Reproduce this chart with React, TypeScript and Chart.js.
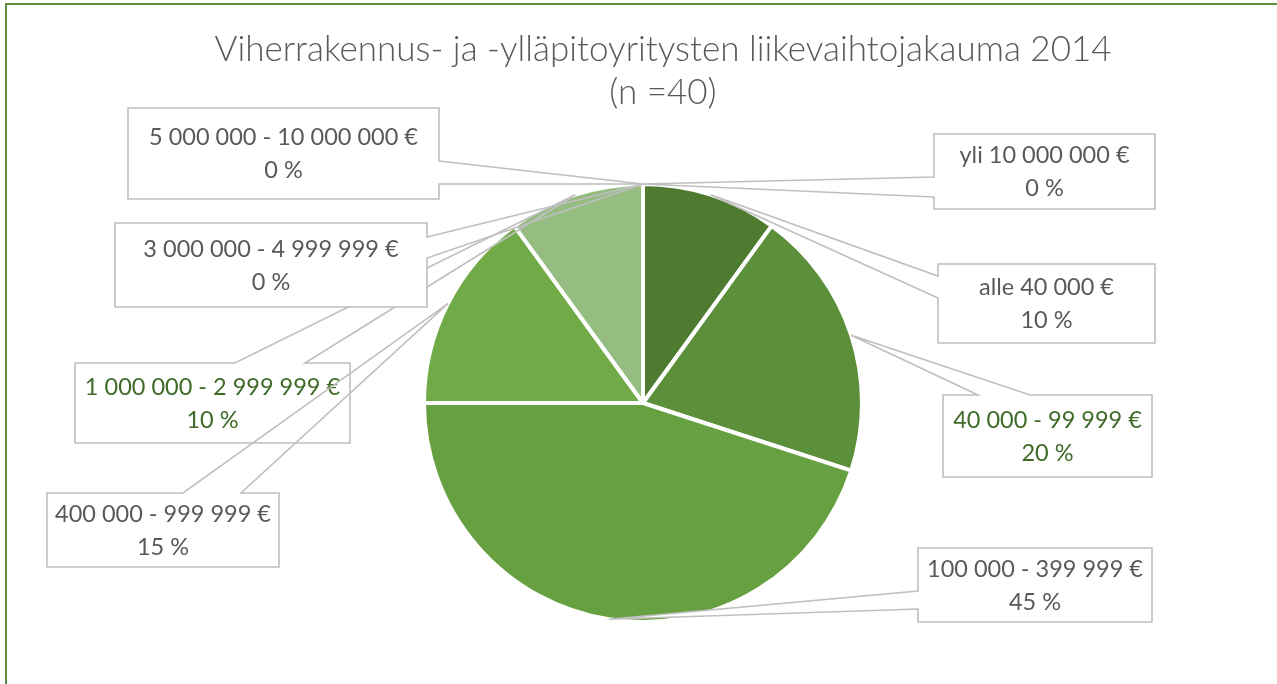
import { useEffect, useRef } from "react";
import { Chart, registerables } from "chart.js";

Chart.register(...registerables);

// ---------- data ----------
const titleLines = [
  "Viherrakennus- ja -ylläpitoyritysten liikevaihtojakauma 2014",
  "(n =40)",
];
const categories = [
  "alle 40 000 €",
  "40 000 - 99 999 €",
  "100 000 - 399 999 €",
  "400 000 - 999 999 €",
  "1 000 000 - 2 999 999 €",
  "3 000 000 - 4 999 999 €",
  "5 000 000 - 10 000 000 €",
  "yli 10 000 000 €",
];
const shares = [10, 20, 45, 15, 10, 0, 0, 0];

// ---------- styles / layout ----------
const sliceColors = [
  "#4e7b30",
  "#5b8f3a",
  "#67a040",
  "#70ab47",
  "#95bd82",
  "#b5d3a5",
  "#c9dfbd",
  "#dbe9d2",
];
const GRAY = "#595959";
const GREEN = "#3f6a28";
const labelColors = [GRAY, GREEN, GRAY, GRAY, GREEN, GRAY, GRAY, GRAY];

type Callout = {
  box: [number, number, number, number];
  side: "left" | "right" | "top";
  base: [number, number];
  fillWedge: boolean;
};
// one callout box per category (same order as categories)
const callouts: Callout[] = [
  { box: [938, 264, 217, 79], side: "left", base: [276, 298], fillWedge: false },
  { box: [943, 395, 209, 82], side: "top", base: [978, 1030], fillWedge: false },
  { box: [918, 548, 234, 74], side: "left", base: [591, 609], fillWedge: true },
  { box: [47, 493, 232, 74], side: "top", base: [183, 241], fillWedge: false },
  { box: [75, 363, 275, 80], side: "top", base: [235, 305], fillWedge: false },
  { box: [115, 223, 312, 84], side: "right", base: [237, 258], fillWedge: false },
  { box: [128, 108, 311, 91], side: "right", base: [161, 184], fillWedge: false },
  { box: [934, 134, 221, 75], side: "left", base: [177, 197], fillWedge: false },
];
const drawOrder = [0, 1, 2, 4, 5, 6, 7, 3];

const decorPlugin = {
  id: "decor",
  beforeDraw(chart: any) {
    const ctx = chart.ctx as CanvasRenderingContext2D;
    ctx.save();
    ctx.fillStyle = "#ffffff";
    ctx.fillRect(0, 0, chart.width, chart.height);
    // chart frame (top + left visible)
    ctx.strokeStyle = "#5e8e3e";
    ctx.lineWidth = 2;
    ctx.beginPath();
    ctx.moveTo(6, chart.height);
    ctx.lineTo(6, 4);
    ctx.lineTo(chart.width, 4);
    ctx.stroke();
    // title
    ctx.fillStyle = GRAY;
    ctx.font = "300 35px Lato";
    ctx.textAlign = "center";
    ctx.textBaseline = "middle";
    ctx.fillText(titleLines[0], 663, 50);
    ctx.fillText(titleLines[1], 663, 93);
    ctx.restore();
  },
  afterDatasetsDraw(chart: any) {
    const ctx = chart.ctx as CanvasRenderingContext2D;
    const meta = chart.getDatasetMeta(0);
    ctx.save();
    drawOrder.forEach((i) => {
      const arc = meta.data[i];
      if (!arc) return;
      const p = arc.getProps(["x", "y", "startAngle", "endAngle", "outerRadius"], true);
      const mid = (p.startAngle + p.endAngle) / 2;
      const tx = p.x + Math.cos(mid) * p.outerRadius;
      const ty = p.y + Math.sin(mid) * p.outerRadius;
      const c = callouts[i];
      const [x, y, w, h] = c.box;
      const [a, b] = c.base;

      ctx.beginPath();
      ctx.moveTo(x, y);
      if (c.side === "top") {
        ctx.lineTo(a, y);
        ctx.lineTo(tx, ty);
        ctx.lineTo(b, y);
      }
      ctx.lineTo(x + w, y);
      if (c.side === "right") {
        ctx.lineTo(x + w, a);
        ctx.lineTo(tx, ty);
        ctx.lineTo(x + w, b);
      }
      ctx.lineTo(x + w, y + h);
      ctx.lineTo(x, y + h);
      if (c.side === "left") {
        ctx.lineTo(x, b);
        ctx.lineTo(tx, ty);
        ctx.lineTo(x, a);
      }
      ctx.closePath();
      ctx.fillStyle = "#ffffff";
      if (c.fillWedge) {
        ctx.fill();
      } else {
        ctx.fillRect(x, y, w, h);
      }
      ctx.strokeStyle = "#bfbfbf";
      ctx.lineWidth = 1.6;
      ctx.lineJoin = "miter";
      ctx.stroke();

      ctx.fillStyle = labelColors[i];
      ctx.font = "23.5px Lato";
      ctx.textAlign = "center";
      ctx.textBaseline = "middle";
      const cx = x + w / 2;
      const cy = y + h / 2;
      ctx.fillText(categories[i], cx, cy - 16);
      ctx.fillText(`${shares[i]} %`, cx, cy + 17);
    });
    ctx.restore();
  },
};

export default function App() {
  const ref = useRef<HTMLCanvasElement | null>(null);

  useEffect(() => {
    if (!ref.current) return;
    const chart = new Chart(ref.current, {
      type: "pie",
      data: {
        labels: categories,
        datasets: [
          {
            data: shares,
            backgroundColor: sliceColors,
            borderColor: "#ffffff",
            borderWidth: 4,
          },
        ],
      },
      options: {
        responsive: false,
        animation: false,
        layout: { padding: { left: 422, right: 413, top: 182, bottom: 60 } },
        plugins: {
          legend: { display: false },
          tooltip: { enabled: false },
          title: { display: false },
        },
      },
      plugins: [decorPlugin],
    });
    const fonts: any = (document as any).fonts;
    if (fonts && fonts.load) {
      Promise.all([fonts.load("23.5px Lato"), fonts.load("300 35px Lato")])
        .then(() => chart.draw())
        .catch(() => {});
    }
    return () => chart.destroy();
  }, []);

  return (
    <div style={{ position: "fixed", left: 0, top: 0, width: 1277, height: 684, background: "#fff" }}>
      <canvas ref={ref} width={1277} height={684} style={{ display: "block" }} />
    </div>
  );
}
